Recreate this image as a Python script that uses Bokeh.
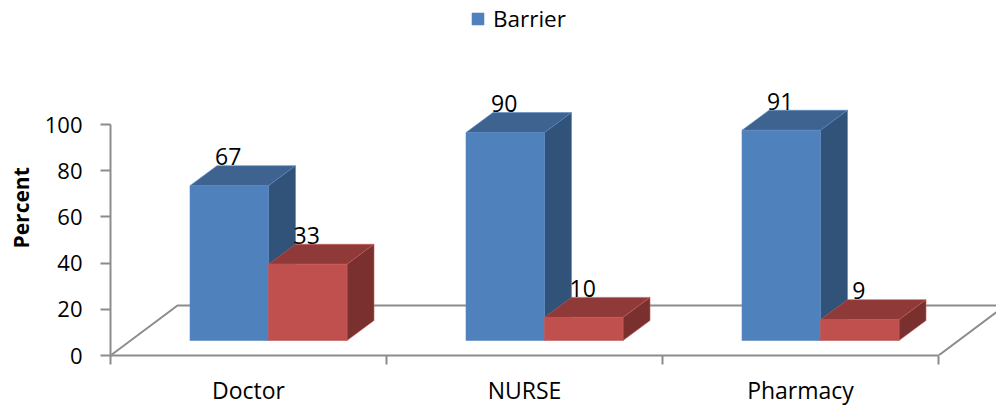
from bokeh.plotting import figure
from bokeh.models import ColumnDataSource, FixedTicker, Legend, LegendItem, LinearAxis, Range1d, Title
from bokeh.core.properties import value
from bokeh.embed import file_html
from bokeh.resources import INLINE

categories = ["Doctor", "NURSE", "Pharmacy"]
barrier = [67, 90, 91]
other = [33, 10, 9]
y_ticks = [0, 20, 40, 60, 80, 100]

# projection of the 3-D box (category units on x, percent on y)
BAR_W = 78.5 / 276
BAR_X = 79.5 / 276
BASE = 6.5
DX, DY = 27 / 276, 20 / 2.31
FLOOR_DX, FLOOR_DY = 67 / 276, 50 / 2.31
FONT = "Open Sans"
AXIS_COLOR = "#8c8c8c"

p = figure(width=996, height=409, output_backend="svg", toolbar_location=None,
           x_range=Range1d(0, 886 / 276), y_range=Range1d(0, 355 / 2.31),
           min_border_left=110, min_border_right=0, min_border_top=0, min_border_bottom=54,
           x_axis_type=None, y_axis_type=None)
p.outline_line_color = None
p.grid.visible = False
p.background_fill_color = "white"

p.multi_line([[0, FLOOR_DX, 3 + FLOOR_DX, 3]], [[0, FLOOR_DY, FLOOR_DY, 0]],
             line_color=AXIS_COLOR, line_width=2)


def boxes(values, offset, front, top, side, edge):
    xs_f, ys_f, xs_t, ys_t, xs_s, ys_s = [], [], [], [], [], []
    for i, v in enumerate(values):
        x0 = i + BAR_X + offset
        x1 = x0 + BAR_W
        y1 = BASE + v
        xs_f.append([x0, x1, x1, x0])
        ys_f.append([BASE, BASE, y1, y1])
        xs_t.append([x0, x1, x1 + DX, x0 + DX])
        ys_t.append([y1, y1, y1 + DY, y1 + DY])
        xs_s.append([x1, x1 + DX, x1 + DX, x1])
        ys_s.append([BASE, BASE + DY, y1 + DY, y1])
    p.patches(xs_t, ys_t, fill_color=top, line_color=edge, line_width=0.6)
    p.patches(xs_s, ys_s, fill_color=side, line_color=edge, line_width=0.6)
    return p.patches(xs_f, ys_f, fill_color=front, line_color=edge, line_width=0.6)


blue = boxes(barrier, 0, "#4F81BD", "#3E6391", "#315379", "#5b88bf")
boxes(other, BAR_W, "#C0504D", "#8F3A38", "#7A302E", "#c45a57")

label_src = ColumnDataSource(dict(
    x=[i + BAR_X + BAR_W / 2 for i in range(3)] + [i + BAR_X + 1.5 * BAR_W for i in range(3)],
    y=[BASE + v + DY for v in barrier] + [BASE + v + DY for v in other],
    t=[str(v) for v in barrier] + [str(v) for v in other],
))
p.text("x", "y", text="t", source=label_src, text_align="center", text_baseline="alphabetic",
       y_offset=-9, x_offset=-1, text_font=value(FONT), text_font_size="23px", text_color="black")

yaxis = LinearAxis(bounds=(0, 100), ticker=FixedTicker(ticks=y_ticks))
yaxis.axis_line_color = AXIS_COLOR
yaxis.axis_line_width = 2
yaxis.major_tick_line_color = AXIS_COLOR
yaxis.major_tick_line_width = 2
yaxis.major_tick_out = 10
yaxis.major_tick_in = 0
yaxis.minor_tick_line_color = None
yaxis.major_label_text_font = FONT
yaxis.major_label_text_font_size = "22px"
yaxis.major_label_text_color = "black"
yaxis.major_label_standoff = 18
p.add_layout(yaxis, "left")

y_title = Title(text="Percent", align="left", offset=107, standoff=10, vertical_align="top",
                text_font=FONT, text_font_size="21px", text_font_style="bold", text_color="black")
p.add_layout(y_title, "left")

xaxis = LinearAxis(
    bounds=(0, 3),
    ticker=FixedTicker(ticks=[0.5, 1.5, 2.5], minor_ticks=[0, 1, 2, 3]),
    major_label_overrides={i + 0.5: c for i, c in enumerate(categories)})
xaxis.axis_line_color = AXIS_COLOR
xaxis.axis_line_width = 2
xaxis.major_tick_line_color = None
xaxis.major_tick_out = 0
xaxis.major_tick_in = 0
xaxis.minor_tick_line_color = AXIS_COLOR
xaxis.minor_tick_line_width = 2
xaxis.minor_tick_out = 9
xaxis.minor_tick_in = 0
xaxis.major_label_text_font = FONT
xaxis.major_label_text_font_size = "23px"
xaxis.major_label_text_color = "black"
xaxis.major_label_standoff = 9
p.add_layout(xaxis, "below")

legend = Legend(items=[LegendItem(label="Barrier", renderers=[blue])],
                location=(360, 321), orientation="horizontal",
                border_line_color=None, background_fill_alpha=0,
                padding=0, margin=0, glyph_width=15, glyph_height=15,
                label_standoff=8, label_text_font=FONT, label_text_font_size="22.5px",
                label_text_color="black")
p.add_layout(legend, "center")

open("out.html", "w").write(file_html(p, INLINE))
